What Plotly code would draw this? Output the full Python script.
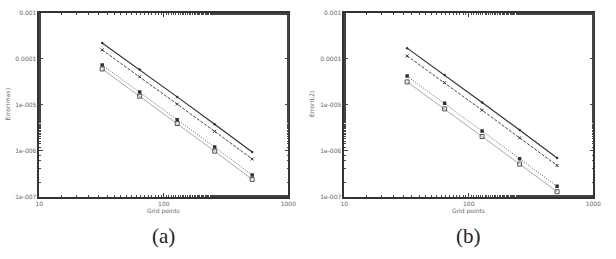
import plotly.graph_objects as go

grid_points = [32, 64, 128, 256, 512]

# Panel (a): Error(max)
a_s1 = [2.2e-4, 5.8e-5, 1.48e-5, 3.77e-6, 9.4e-7]
a_s2 = [1.56e-4, 4.06e-5, 1.03e-5, 2.63e-6, 6.6e-7]
a_s3 = [7.3e-5, 1.89e-5, 4.73e-6, 1.2e-6, 2.97e-7]
a_s4 = [5.98e-5, 1.53e-5, 3.89e-6, 9.75e-7, 2.37e-7]

# Panel (b): Error(L2)
b_s1 = [1.7e-4, 4.4e-5, 1.12e-5, 2.81e-6, 6.9e-7]
b_s2 = [1.15e-4, 3.02e-5, 7.6e-6, 1.9e-6, 4.76e-7]
b_s3 = [4.19e-5, 1.07e-5, 2.68e-6, 6.7e-7, 1.68e-7]
b_s4 = [3.13e-5, 8.1e-6, 2.03e-6, 5.1e-7, 1.28e-7]

x_tickvals = [10, 100, 1000]
x_ticktext = ["10", "100", "1000"]
y_tickvals = [1e-7, 1e-6, 1e-5, 1e-4, 1e-3]
y_ticktext = ["1e-007", "1e-006", "1e-005", "0.0001", "0.001"]

styles = [
    dict(line=dict(color="#333333", width=1.2, dash="solid"),
         marker=dict(symbol="circle", size=2.5, color="#333333")),
    dict(line=dict(color="#444444", width=1, dash="3px,1.5px"),
         marker=dict(symbol="x-thin", size=3, line=dict(width=1, color="#333333"), color="#333333")),
    dict(line=dict(color="#666666", width=1, dash="1px,1.5px"),
         marker=dict(symbol="square", size=3.5, color="#333333")),
    dict(line=dict(color="#aaaaaa", width=1, dash="solid"),
         marker=dict(symbol="square-open", size=4, color="#555555", line=dict(width=1))),
]

fig = go.Figure()
for i, ys in enumerate([a_s1, a_s2, a_s3, a_s4]):
    fig.add_trace(go.Scatter(x=grid_points, y=ys, mode="lines+markers",
                             xaxis="x", yaxis="y", showlegend=False, **styles[i]))
for i, ys in enumerate([b_s1, b_s2, b_s3, b_s4]):
    fig.add_trace(go.Scatter(x=grid_points, y=ys, mode="lines+markers",
                             xaxis="x2", yaxis="y2", showlegend=False, **styles[i]))

W, H = 616, 259
ydom = [(H - 198) / H, (H - 9) / H]

tick_font = dict(family="DejaVu Sans", size=6, color="#666666")
common_x = dict(type="log", range=[1, 3], tickvals=x_tickvals, ticktext=x_ticktext,
                ticks="inside", ticklen=4, mirror="ticks", showline=True, linecolor="#333333",
                linewidth=1.5, showgrid=False, zeroline=False, tickfont=tick_font,
                minor=dict(ticks="inside", ticklen=2, showgrid=False))
common_y = dict(type="log", range=[-7, -3], tickvals=y_tickvals, ticktext=y_ticktext,
                ticks="inside", ticklen=4, mirror="ticks", showline=True, linecolor="#333333",
                linewidth=1.5, showgrid=False, zeroline=False, tickfont=tick_font,
                minor=dict(ticks="inside", ticklen=2, showgrid=False))

fig.update_layout(
    width=W, height=H, margin=dict(l=0, r=0, t=0, b=0),
    paper_bgcolor="white", plot_bgcolor="white",
    xaxis=dict(domain=[36 / W, 290 / W], anchor="y", **common_x),
    yaxis=dict(domain=ydom, anchor="x", **common_y),
    xaxis2=dict(domain=[347 / W, 601 / W], anchor="y2", **common_x),
    yaxis2=dict(domain=ydom, anchor="x2", **common_y),
)

ann_font = dict(family="DejaVu Sans", size=6, color="#666666")
cap_font = dict(family="Liberation Serif", size=21, color="#222222")
annotations = [
    dict(text="Grid points", x=(36 + 290) / 2 / W, y=(H - 213) / H, xref="paper", yref="paper",
         showarrow=False, font=ann_font, xanchor="center", yanchor="middle"),
    dict(text="Grid points", x=(347 + 601) / 2 / W, y=(H - 213) / H, xref="paper", yref="paper",
         showarrow=False, font=ann_font, xanchor="center", yanchor="middle"),
    dict(text="Error(max)", x=3 / W, y=(H - 103) / H, xref="paper", yref="paper",
         showarrow=False, font=ann_font, textangle=-90, xanchor="center", yanchor="middle"),
    dict(text="Error(L2)", x=313 / W, y=(H - 103) / H, xref="paper", yref="paper",
         showarrow=False, font=ann_font, textangle=-90, xanchor="center", yanchor="middle"),
    dict(text="(a)", x=163 / W, y=(H - 238) / H, xref="paper", yref="paper",
         showarrow=False, font=cap_font, xanchor="center", yanchor="middle"),
    dict(text="(b)", x=474 / W, y=(H - 238) / H, xref="paper", yref="paper",
         showarrow=False, font=cap_font, xanchor="center", yanchor="middle"),
]
fig.update_layout(annotations=annotations)

fig.write_html("out.html")
